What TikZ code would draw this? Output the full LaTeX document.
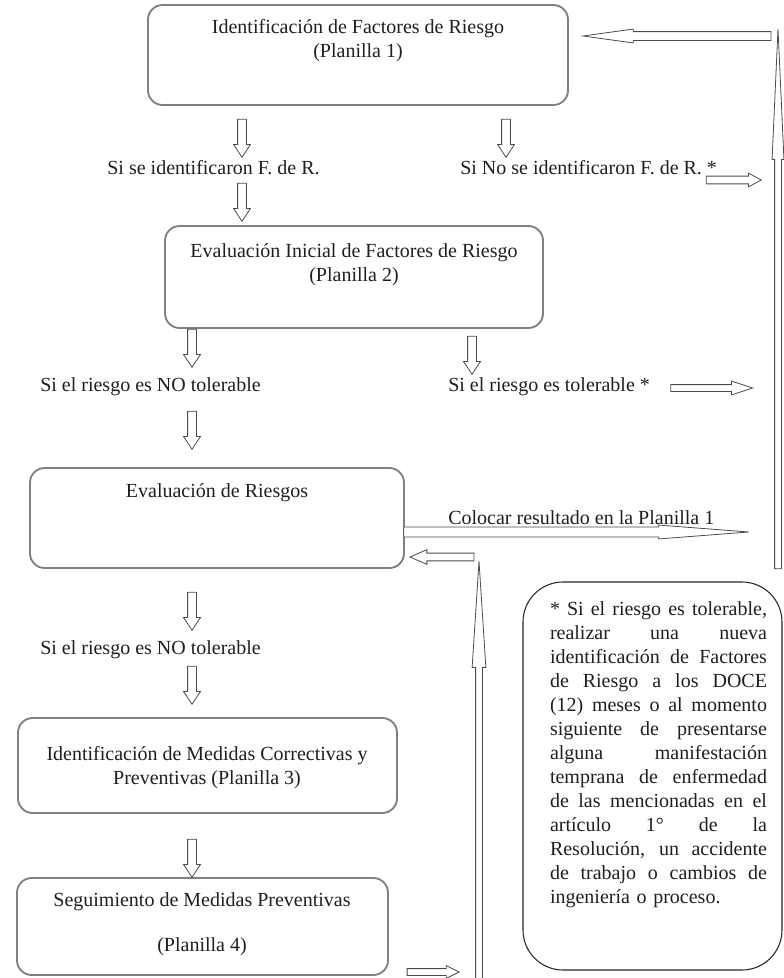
\documentclass[tikz,border=0pt]{standalone}
\usepackage{fontspec}
\setmainfont{Liberation Serif}
\usetikzlibrary{shapes.arrows}
\newcommand{\jl}[1]{\leavevmode\hbox to 162.75pt{\spaceskip=0.25em plus 1fil\relax #1}}
\begin{document}
\begin{tikzpicture}[x=0.75pt,y=-0.75pt,
  box/.style={draw=black!50, line width=1.4pt, rounded corners=11pt, inner sep=0pt},
  txt/.style={inner sep=0pt, align=center, text=black!88, font=\fontsize{15}{18}\selectfont},
  barrow/.style n args={4}{single arrow, draw=black!70, fill=white, line width=0.6pt,
     minimum height=#1, minimum width=0pt, inner sep=#2, single arrow head extend=#3,
     single arrow tip angle=#4, single arrow head indent=0pt, anchor=tip},
  down/.style={barrow={28.5pt}{3pt}{3pt}{67}, rotate=-90},
]
\useasboundingbox (0,0) rectangle (783,978);

% boxes
\node[box, minimum width=315pt, minimum height=75pt] (b1) at (358,55) {};
\node[txt] (b1t) at (358,41) {Identificación de Factores de Riesgo\\(Planilla 1)};

\node[box, minimum width=283.5pt, minimum height=76.5pt] (b2) at (354,277) {};
\node[txt] (b2t) at (354,265) {Evaluación Inicial de Factores de Riesgo\\(Planilla 2)};

\node[box, minimum width=280.5pt, minimum height=75pt] (b3) at (217,518) {};
\node[txt] (b3t) at (217,493) {Evaluación de Riesgos};

\node[box, minimum width=284.25pt, minimum height=71.25pt] (b4) at (207.5,765.5) {};
\node[txt] (b4t) at (207,768) {Identificación de Medidas Correctivas y\\Preventivas (Planilla 3)};

\node[box, minimum width=278.25pt, minimum height=72.75pt] (b5) at (202.5,926.5) {};
\node[txt] (b5t) at (202,924.5) {Seguimiento de Medidas Preventivas\\[15.75pt](Planilla 4)};

% note
\node[draw=black!85, line width=0.8pt, rounded corners=30pt, minimum width=194.25pt, minimum height=291pt] (note) at (652.5,776) {};
\node[txt, align=left, text width=162.75pt] (notet) at (658.5,754.5) {%
\jl{* Si el riesgo es tolerable,}\\
\jl{realizar una nueva}\\
\jl{identificación de Factores}\\
\jl{de Riesgo a los DOCE}\\
\jl{(12) meses o al momento}\\
\jl{siguiente de presentarse}\\
\jl{alguna manifestación}\\
\jl{temprana de enfermedad}\\
\jl{de las mencionadas en el}\\
\jl{artículo 1° de la}\\
\jl{Resolución, un accidente}\\
\jl{de trabajo o cambios de}\\
ingeniería o proceso.};

% labels
\node[txt] (t1) at (213.5,168) {Si se identificaron F. de R.};
\node[txt, anchor=west] (t2) at (460,168) {Si No se identificaron F. de R. *};
\node[txt, anchor=west] (t3) at (40,387) {Si el riesgo es NO tolerable};
\node[txt, anchor=west] (t4) at (448,387) {Si el riesgo es tolerable *};
\node[txt, anchor=west] (t5) at (448,518) {Colocar resultado en la Planilla 1};
\node[txt, anchor=west] (t6) at (40,650) {Si el riesgo es NO tolerable};

% down arrows (placed by their tips)
\node[down] (a1) at (242,158) {};
\node[down] (a2) at (506,158) {};
\node[down] (a3) at (242,222) {};
\node[down] (a4) at (192,368) {};
\node[down] (a5) at (472,375) {};
\node[down] (a6) at (192,450) {};
\node[down] (a7) at (192,631) {};
\node[down] (a8) at (192,705) {};
\node[down] (a9) at (192,878) {};

% horizontal arrows
\node[barrow={141pt}{3pt}{1.9pt}{15.7}, rotate=180] (r1) at (580,36) {};
\node[barrow={41.25pt}{2.6pt}{2.25pt}{57}] (r2) at (762,180) {};
\node[barrow={61.5pt}{2.25pt}{2.6pt}{36}] (r3) at (754,388) {};
\node[barrow={258.75pt}{3.4pt}{1.5pt}{8.8}] (r4) at (754,532) {};
\node[barrow={48pt}{2.6pt}{2.6pt}{47}, rotate=180] (r5) at (409,557) {};
\node[barrow={39pt}{2.25pt}{2.25pt}{53}] (r6) at (460,972) {};

% long up arrows
\node[barrow={405pt}{2.25pt}{1.9pt}{5.2}, rotate=90] (u1) at (778,20) {};
\node[barrow={315.75pt}{2.25pt}{2.6pt}{7.4}, rotate=90] (u2) at (479,555) {};
\end{tikzpicture}
\end{document}
